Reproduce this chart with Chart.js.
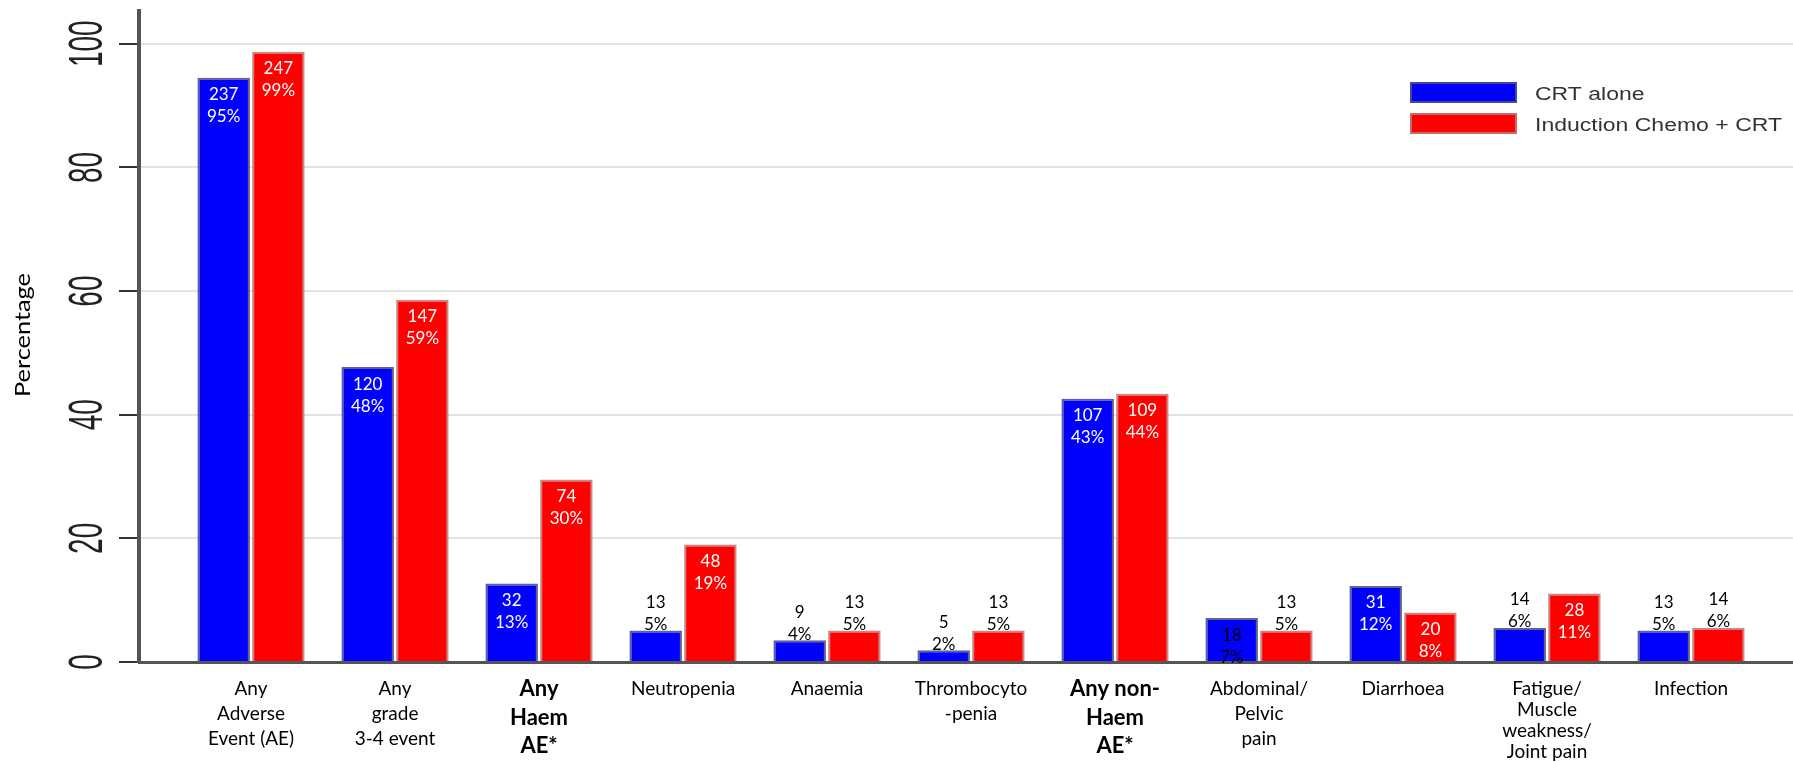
<!DOCTYPE html>
<html lang="en">
  <head>
    <meta charset="UTF-8" />
    <title>Adverse events by arm</title>
    <script src="https://cdn.jsdelivr.net/npm/chart.js@4.4.1/dist/chart.umd.min.js"></script>
    <style>
      html, body { margin: 0; padding: 0; background: #fff; overflow: hidden; }
      canvas { display: block; }
    </style>
  </head>
  <body>
    <canvas id="chart" width="1793" height="762"></canvas>
    <script>
      // categories (one entry per group, split into the lines shown under the axis)
      const categories = [
        ["Any", "Adverse", "Event (AE)"],
        ["Any", "grade", "3-4 event"],
        ["Any", "Haem", "AE*"],
        ["Neutropenia"],
        ["Anaemia"],
        ["Thrombocyto", "-penia"],
        ["Any non-", "Haem", "AE*"],
        ["Abdominal/", "Pelvic", "pain"],
        ["Diarrhoea"],
        ["Fatigue/", "Muscle", "weakness/", "Joint pain"],
        ["Infection"],
      ];

      const seriesNames = ["CRT alone", "Induction Chemo + CRT"];

      // bar heights (percentage of patients)
      const crtAlone = [94.5, 47.7, 12.7, 5.1, 3.5, 1.9, 42.6, 7.1, 12.3, 5.5, 5.1];
      const inductionCrt = [98.7, 58.6, 29.5, 19.0, 5.1, 5.1, 43.4, 5.1, 8.0, 11.1, 5.5];

      // numbers printed on the bars
      const crtAloneCount = [237, 120, 32, 13, 9, 5, 107, 18, 31, 14, 13];
      const inductionCrtCount = [247, 147, 74, 48, 13, 13, 109, 13, 20, 28, 14];
      const crtAlonePctText = ["95%", "48%", "13%", "5%", "4%", "2%", "43%", "7%", "12%", "6%", "5%"];
      const inductionCrtPctText = ["99%", "59%", "30%", "19%", "5%", "5%", "44%", "5%", "8%", "11%", "6%"];

      const yTickValues = [0, 20, 40, 60, 80, 100];

      const counts = [crtAloneCount, inductionCrtCount];
      const pctTexts = [crtAlonePctText, inductionCrtPctText];

      Chart.defaults.font.family = "Lato";

      const overlay = {
        id: "overlay",
        afterDraw(chart) {
          const { ctx, chartArea, scales } = chart;
          const x = scales.x;
          const y = scales.y;

          // y tick labels, turned on their side
          ctx.save();
          ctx.fillStyle = "#222";
          ctx.font = '28px "Liberation Sans"';
          ctx.textAlign = "center";
          ctx.textBaseline = "alphabetic";
          yTickValues.forEach((v) => {
            ctx.save();
            ctx.translate(102, y.getPixelForValue(v));
            ctx.rotate(-Math.PI / 2);
            ctx.scale(1, 1.75);
            ctx.fillText(String(v), 0, 0);
            ctx.restore();
          });
          ctx.restore();

          // y title
          ctx.save();
          ctx.fillStyle = "#000";
          ctx.font = "21px Lato";
          const title = "Percentage";
          const sx = 124 / ctx.measureText(title).width;
          ctx.translate(30, 335);
          ctx.rotate(-Math.PI / 2);
          ctx.scale(sx, 1);
          ctx.textAlign = "center";
          ctx.fillText(title, 0, 0);
          ctx.restore();

          // category labels
          ctx.save();
          ctx.fillStyle = "#000";
          ctx.textAlign = "center";
          ctx.textBaseline = "middle";
          categories.forEach((lines, i) => {
            const cx = x.getPixelForValue(i);
            const bold = lines.join(" ").includes("AE*");
            ctx.font = bold ? "bold 22px Lato" : "19px Lato";
            const lh = bold ? 28.5 : lines.length > 3 ? 21 : 25;
            lines.forEach((ln, k) => {
              ctx.fillText(ln, cx, chartArea.bottom + 27 + k * lh);
            });
          });
          ctx.restore();

          // value labels on the bars
          ctx.save();
          ctx.font = "17px Lato";
          ctx.textAlign = "center";
          ctx.textBaseline = "middle";
          chart.data.datasets.forEach((ds, d) => {
            const meta = chart.getDatasetMeta(d);
            meta.data.forEach((bar, i) => {
              const v = ds.data[i].y;
              const inside = v >= 7;
              ctx.fillStyle = v >= 7.5 ? "#fff" : "#000";
              const y1 = inside ? bar.y + 17 : bar.y - 28;
              ctx.fillText(String(counts[d][i]), bar.x, y1);
              ctx.fillText(pctTexts[d][i], bar.x, y1 + 22);
            });
          });
          ctx.restore();

          // legend
          ctx.save();
          chart.data.datasets.forEach((ds, d) => {
            const top = 82 + d * 31;
            ctx.fillStyle = ds.backgroundColor;
            ctx.fillRect(1410, top, 107, 21);
            ctx.strokeStyle = ds.borderColor;
            ctx.lineWidth = 2;
            ctx.strokeRect(1411, top + 1, 105, 19);
          });
          ctx.font = '17.5px "Liberation Sans"';
          ctx.fillStyle = "#333";
          const lsx = 247 / ctx.measureText(seriesNames[1]).width;
          chart.data.datasets.forEach((ds, d) => {
            ctx.save();
            ctx.translate(1535, 99.5 + d * 31);
            ctx.scale(lsx, 1);
            ctx.fillText(ds.label, 0, 0);
            ctx.restore();
          });
          ctx.restore();
        },
      };

      const ctx = document.getElementById("chart").getContext("2d");
      const chart = new Chart(ctx, {
        type: "bar",
        data: {
          datasets: [
            {
              label: seriesNames[0],
              data: crtAlone.map((v, i) => ({ x: i, y: v })),
              backgroundColor: "#0000ff",
              borderColor: "rgba(80,80,130,0.9)",
              borderWidth: 2,
            },
            {
              label: seriesNames[1],
              data: inductionCrt.map((v, i) => ({ x: i, y: v })),
              backgroundColor: "#ff0000",
              borderColor: "rgba(190,120,120,0.9)",
              borderWidth: 2,
            },
          ],
        },
        options: {
          responsive: false,
          animation: false,
          categoryPercentage: 0.76,
          barPercentage: 0.96,
          layout: { padding: { top: 11, left: 119, right: 0, bottom: 100 } },
          plugins: { legend: { display: false }, tooltip: { enabled: false } },
          scales: {
            x: {
              type: "linear",
              min: -0.778,
              max: 10.708,
              offset: false,
              bounds: "data",
              z: 1,
              ticks: { display: false },
              grid: { display: false, drawTicks: false },
              border: { display: true, color: "#555", width: 3 },
            },
            y: {
              min: 0,
              max: 105.3,
              bounds: "data",
              ticks: { display: false, stepSize: 20, includeBounds: false },
              grid: {
                color: (c) => (c.tick && c.tick.value === 0 ? "#555" : "#e3e3e3"),
                lineWidth: 2,
                drawTicks: true,
                tickLength: 20,
                tickColor: "#333",
                tickWidth: 2,
              },
              border: { display: true, color: "#555", width: 4 },
            },
          },
        },
        plugins: [overlay],
      });
    </script>
  </body>
</html>
